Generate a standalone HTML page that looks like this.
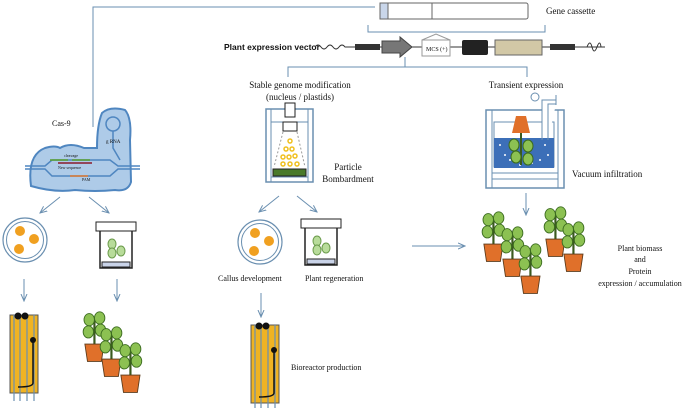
<!DOCTYPE html>
<html><head><style>body{margin:0;background:#fff;overflow:hidden}svg{display:block}text{font-family:"Liberation Serif",serif;fill:#111}</style></head>
<body>
<svg width="687" height="408" viewBox="0 0 687 408">
<defs><marker id="a" markerWidth="8" markerHeight="8" refX="7" refY="4" orient="auto"><path d="M0,1 L7,4 L0,7" fill="none" stroke="#6a8fb0" stroke-width="1"/></marker>
<g id="plant"><path d="M12,38 V8" stroke="#3b5a1f" stroke-width="2.5" fill="none"/>
<ellipse cx="6" cy="10" rx="6" ry="7" fill="#8cc152" stroke="#3b6b1f"/><ellipse cx="18" cy="8" rx="6" ry="7" fill="#8cc152" stroke="#3b6b1f"/>
<ellipse cx="5" cy="24" rx="6" ry="7" fill="#8cc152" stroke="#3b6b1f"/><ellipse cx="19" cy="22" rx="6" ry="7" fill="#8cc152" stroke="#3b6b1f"/>
<path d="M1,38 H23 L20,58 H4 Z" fill="#e0702a" stroke="#5a3a1a"/></g>
<g id="bio"><rect x="2" y="2" width="28" height="78" fill="#f0b323" stroke="#555"/><path d="M6,2V88M12,2V88M19,2V88M26,2V88" stroke="#6a8fb0" stroke-width="1.2"/>
<circle cx="10" cy="3" r="3.5" fill="#111"/><circle cx="17" cy="3" r="3.5" fill="#111"/><circle cx="25" cy="27" r="3" fill="#111"/><path d="M25,27 V70 Q25,74 10,74" stroke="#111" stroke-width="1.5" fill="none"/></g>
<g id="dish"><circle r="22" fill="#fff" stroke="#6a8fb0" stroke-width="1.2"/><circle r="18.5" fill="none" stroke="#6a8fb0"/>
<circle cx="-5" cy="-9" r="5" fill="#f0a020"/><circle cx="9" cy="-1" r="5" fill="#f0a020"/><circle cx="-6" cy="9" r="5" fill="#f0a020"/></g>
<g id="jar"><rect x="0" y="0" width="40" height="9" fill="#fff" stroke="#222"/><path d="M4,9 V46 H36 V9" fill="none" stroke="#222" stroke-width="1.5"/><rect x="6" y="40" width="28" height="5" fill="#c9d3e8" stroke="#222"/>
<ellipse cx="16" cy="22" rx="4" ry="5" fill="#b8dc9a" stroke="#6a9a4a"/><ellipse cx="16" cy="31" rx="4" ry="5" fill="#b8dc9a" stroke="#6a9a4a"/><ellipse cx="25" cy="29" rx="4" ry="5" fill="#b8dc9a" stroke="#6a9a4a"/></g>
</defs>
<g stroke="#6a8fb0" stroke-width="1" fill="none">
<path d="M93,127 V7 H375"/><path d="M405,57 V67 M288,77 V67 H527 V77"/>
<path d="M368,25 V32 H545 V25"/><path d="M526,193 V215" marker-end="url(#a)"/>
<path d="M60,197 L40,213" marker-end="url(#a)"/><path d="M89,197 L109,213" marker-end="url(#a)"/>
<path d="M24,279 V301" marker-end="url(#a)"/><path d="M117,279 V301" marker-end="url(#a)"/>
<path d="M279,196 L259,212" marker-end="url(#a)"/><path d="M297,196 L317,212" marker-end="url(#a)"/>
<path d="M261,293 V317" marker-end="url(#a)"/><path d="M412,246 H465" marker-end="url(#a)"/>
</g>
<rect x="380" y="3" width="148" height="16" rx="2" fill="#fff" stroke="#666"/><rect x="380" y="3" width="8" height="16" fill="#c9d6ea" stroke="#666"/><path d="M432,3 V19" stroke="#666"/>
<text x="546" y="14" font-size="9">Gene cassette</text>
<path d="M422,40 L436,34 L450,40" fill="none" stroke="#999"/>
<text x="224" y="50" font-size="8.5" font-weight="bold" style="font-family:'Liberation Sans',sans-serif">Plant expression vector</text>
<path d="M315,47 q3,-4 6,0 t6,0 t6,0 t6,0 t6,0 H355" stroke="#333" fill="none"/>
<path d="M380,47 H605" stroke="#333"/>
<rect x="355" y="44" width="25" height="6" fill="#333"/>
<path d="M382,41 H400 V37 L412,47 L400,57 V53 H382 Z" fill="#777" stroke="#444"/>
<rect x="422" y="40" width="28" height="16" fill="#fff" stroke="#999"/><text x="426" y="51" font-size="6">MCS (+)</text>
<rect x="462" y="40" width="26" height="15" rx="2" fill="#222"/><rect x="495" y="40" width="47" height="15" fill="#d2c8a6" stroke="#666"/>
<rect x="550" y="44" width="25" height="6" fill="#333"/>
<path d="M575,47 h12 q3,-8 5,0 t5,0 t4,0" stroke="#333" fill="none"/>
<text x="300" y="88" font-size="9" text-anchor="middle">Stable genome modification</text>
<text x="300" y="100" font-size="9" text-anchor="middle">(nucleus / plastids)</text>
<text x="526" y="88" font-size="9" text-anchor="middle">Transient expression</text>
<rect x="266" y="109" width="47" height="73" fill="#fff" stroke="#6a8fb0" stroke-width="1.5"/><path d="M271,109 V182 M308,109 V182 M271,122 H308 M271,177 H308" stroke="#6a8fb0"/>
<rect x="285" y="103" width="10" height="14" fill="#fff" stroke="#222"/><rect x="283" y="122" width="14" height="9" fill="#fff" stroke="#222"/>
<path d="M283,132 L274,167 M297,132 L305,167" stroke="#999" stroke-dasharray="2,2"/>
<g fill="none" stroke="#f0c020" stroke-width="1.5"><circle cx="290" cy="141" r="2"/><circle cx="286" cy="149" r="2"/><circle cx="292" cy="149" r="2"/><circle cx="283" cy="157" r="2"/><circle cx="289" cy="157" r="2"/><circle cx="295" cy="156" r="2"/><circle cx="283" cy="164" r="2"/><circle cx="290" cy="164" r="2"/><circle cx="297" cy="164" r="2"/></g>
<rect x="273" y="169" width="33" height="7" fill="#4a7a2a" stroke="#222"/>
<text x="348" y="170" font-size="9" text-anchor="middle">Particle</text><text x="348" y="182" font-size="9" text-anchor="middle">Bombardment</text>
<rect x="486" y="110" width="78" height="78" fill="#fff" stroke="#6a8fb0" stroke-width="1.5"/><path d="M492,110 V188 M558,110 V188 M492,173 H558 M492,179 H558" stroke="#6a8fb0"/>
<path d="M494,122 H554 V167 H494 Z" fill="none" stroke="#6a8fb0"/>
<rect x="494" y="138" width="60" height="30" fill="#3c6fb8"/>
<g fill="#fff"><circle cx="500" cy="145" r="1"/><circle cx="510" cy="160" r="1"/><circle cx="545" cy="145" r="1"/><circle cx="540" cy="160" r="1"/><circle cx="505" cy="155" r="1"/><circle cx="548" cy="155" r="1"/><circle cx="520" cy="165" r="1"/><circle cx="532" cy="163" r="1"/></g>
<path d="M542,140 V100 H556 M548,140 V104 H556" stroke="#6a8fb0" fill="#fff"/><circle cx="535" cy="97" r="4" fill="#fff" stroke="#6a8fb0"/><path d="M556,95 V105" stroke="#6a8fb0"/>
<path d="M516,116 H526 L530,133 H512 Z" fill="#e0702a"/><path d="M521,133 V165" stroke="#3b5a1f" stroke-width="2"/>
<ellipse cx="514" cy="145" rx="5" ry="6" fill="#8cc152" stroke="#3b6b1f"/><ellipse cx="528" cy="146" rx="5" ry="6" fill="#8cc152" stroke="#3b6b1f"/><ellipse cx="516" cy="157" rx="5" ry="6" fill="#8cc152" stroke="#3b6b1f"/><ellipse cx="528" cy="159" rx="5" ry="6" fill="#8cc152" stroke="#3b6b1f"/>
<text x="572" y="177" font-size="9">Vacuum infiltration</text>
<path d="M31,186 Q27,155 45,148 Q55,145 60,148 Q70,142 84,148 L97,148 Q97,125 102,113 Q110,106 125,110 Q132,118 130,140 L131,182 Q128,192 115,190 Q95,192 75,190 Q55,193 31,186 Z" fill="#aecbe8" stroke="#4f86c0" stroke-width="2"/>
<circle cx="113" cy="124" r="7" fill="none" stroke="#4f86c0" stroke-width="1.5"/><path d="M113,131 V148 L120,160" fill="none" stroke="#4f86c0" stroke-width="1.5"/>
<path d="M25,166 H45 L52,160 H110 L118,166 H140 M25,169 H45 L52,176 H110 L118,169 H140" fill="none" stroke="#4f86c0" stroke-width="1.5"/>
<path d="M50,160 H68 M72,160 H90" stroke="#5aa02c" stroke-width="1.5"/><path d="M58,163 H92" stroke="#8a1a2a" stroke-width="1.5"/><path d="M70,176 H88" stroke="#e07a30" stroke-width="1.5"/>
<text x="52" y="126" font-size="8" fill="#555">Cas-9</text><text x="64" y="157" font-size="4">cleavage</text><text x="58" y="169" font-size="4">New sequence</text><text x="106" y="143" font-size="5">g RNA</text><text x="82" y="181" font-size="4">PAM</text>
<use href="#dish" x="25" y="240"/><use href="#jar" x="96" y="222"/>
<use href="#dish" x="260" y="242"/><use href="#jar" x="301" y="219"/>
<text x="218" y="281" font-size="8">Callus development</text><text x="305" y="281" font-size="8">Plant regeneration</text>
<use href="#bio" x="8" y="313"/><use href="#bio" x="249" y="323"/>
<text x="291" y="370" font-size="8">Bioreactor production</text>
<g transform="translate(84,311) scale(0.87)"><use href="#plant"/></g>
<g transform="translate(101,326) scale(0.87)"><use href="#plant"/></g>
<g transform="translate(120,342) scale(0.87)"><use href="#plant"/></g>
<g transform="translate(483,211) scale(0.87)"><use href="#plant"/></g>
<g transform="translate(545,206) scale(0.87)"><use href="#plant"/></g>
<g transform="translate(502,226) scale(0.87)"><use href="#plant"/></g>
<g transform="translate(563,221) scale(0.87)"><use href="#plant"/></g>
<g transform="translate(520,243) scale(0.87)"><use href="#plant"/></g>
<text x="640" y="251" font-size="8" text-anchor="middle">Plant biomass</text><text x="640" y="262" font-size="8" text-anchor="middle">and</text><text x="640" y="274" font-size="8" text-anchor="middle">Protein</text><text x="640" y="286" font-size="8" text-anchor="middle">expression / accumulation</text>
</svg>
</body></html>
